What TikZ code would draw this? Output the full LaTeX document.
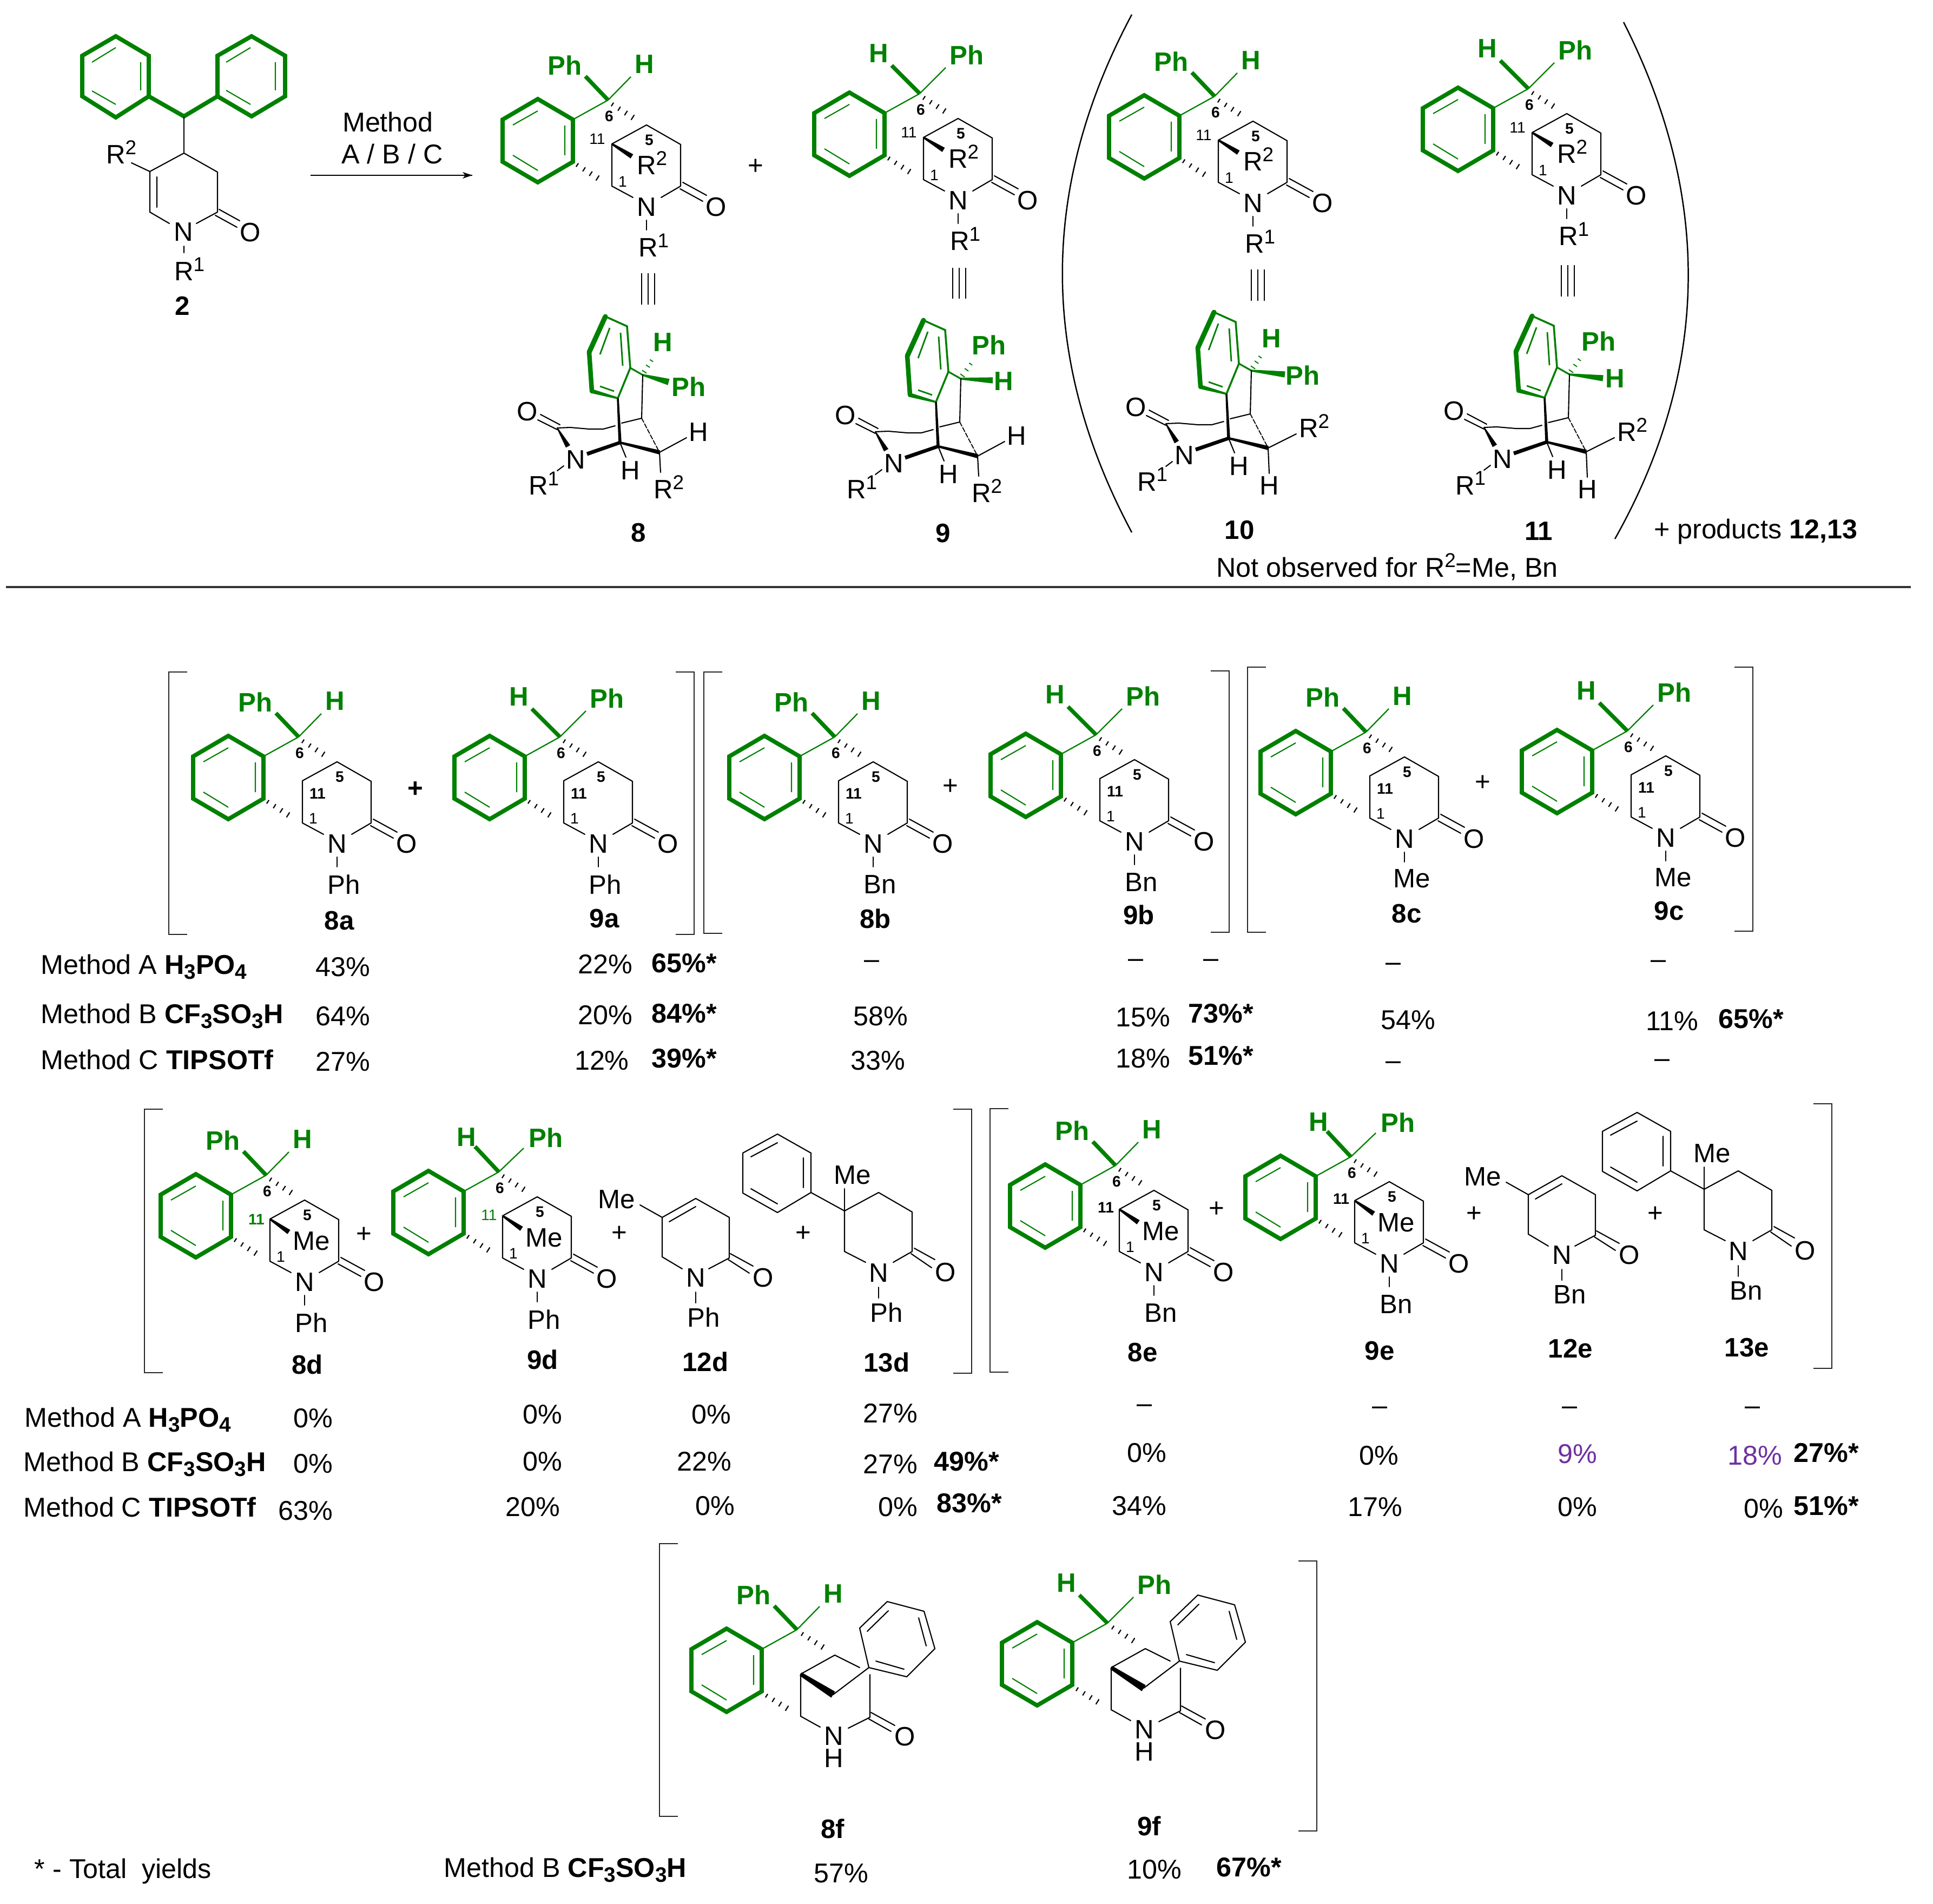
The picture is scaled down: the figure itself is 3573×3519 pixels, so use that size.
\documentclass[tikz,border=0pt]{standalone}
\usepackage{fontspec}
\setmainfont{Liberation Sans}
\usetikzlibrary{calc}
\definecolor{chemgreen}{RGB}{0,128,0}
\definecolor{yieldpurple}{RGB}{112,48,160}
\newcounter{nn}
\newcommand\mainfs{\fontsize{14}{16}\selectfont}
\newcommand\tabfs{\fontsize{14.3}{16}\selectfont}
\newcommand\smallfs{\fontsize{8}{9}\selectfont}
\newcommand\supfs{\fontsize{10.5}{11}\selectfont}
\tikzset{
  x=0.01cm,y=-0.01cm,
  txt/.style={inner sep=0pt,outer sep=0pt,font=\mainfs},
  tab/.style={txt,font=\tabfs},
  gl/.style={txt,text=chemgreen,font=\mainfs\bfseries},
  num/.style={txt,font=\smallfs},
  numb/.style={txt,font=\smallfs\bfseries},
  cpd/.style={txt,font=\fontsize{14}{16}\selectfont\bfseries},
  plusb/.style={txt,font=\mainfs\bfseries},
  bond/.style={line width=0.6pt,black,line cap=round},
  gthin/.style={line width=0.65pt,chemgreen},
  gin/.style={line width=0.6pt,chemgreen},
  gring/.style={line width=2.2pt,chemgreen,line join=miter},
  gbar/.style={line width=2.1pt,chemgreen},
  brk/.style={line width=0.7pt,black!85},
}
\newcommand\T[3][]{\stepcounter{nn}\node[txt,#1] (n\thenn) at #2 {#3};}
\newcommand\Rl[3]{\stepcounter{nn}\node[txt,anchor=base west] (n\thenn) at ($#1+(-17,17)$) {R\raisebox{5pt}{\supfs #2}};}
% tapered solid bond: colour, from, to, half width at start, half width at end
\newcommand\tb[5][black]{\fill[#1] ($#2!#4!90:#3$) -- ($#2!#4!-90:#3$) -- ($#3!#5!90:#2$) -- ($#3!#5!-90:#2$) -- cycle;}
% hashed bond
\newcommand\hb[3][black]{\foreach \t/\w in {0/1.1,0.25/1.25,0.5/1.4,0.75/1.55,1/1.7}{\draw[line width=0.62pt,#1] ($#2!\t!#3!\w pt!90:#3$) -- ($#2!\t!#3!\w pt!-90:#3$);}}
\newcommand\hbg[2]{\foreach \t/\w in {0/1.4,0.33/1.2,0.66/1.0,1/0.8}{\draw[line width=0.55pt,chemgreen] ($#1!\t!#2!\w pt!90:#2$) -- ($#1!\t!#2!\w pt!-90:#2$);}}
% fused green benzene, upper-left of C6
\newcommand\benz{%
  \coordinate (bT) at (-130,-2);\coordinate (bUR) at (-65,36);\coordinate (bLR) at (-65,114);
  \coordinate (bB) at (-130,152);\coordinate (bLL) at (-195,114);\coordinate (bUL) at (-195,36);
  \draw[gring] (bT)--(bUR)--(bLR)--(bB)--(bLL)--(bUL)--cycle;
  \draw[gin] (-176,46)--(-130,20) (-80,47)--(-80,102) (-176,102)--(-130,130);
  \draw[gthin] (bUR)--(0,0);}
\newcommand\topgroup[1]{%
  \ifnum#1=8
    \draw[gbar] (0,0)--(-42,-44);\draw[gthin] (0,0)--(42,-43);
    \T[gl]{(-80,-64)}{Ph}\T[gl]{(67,-66)}{H}
  \else
    \ifnum#1=7
      \draw[gbar] (0,0)--(-44,-47);\draw[gthin] (0,0)--(46,-44);
      \T[gl]{(-60,-64)}{H}\T[gl]{(87,-63)}{Ph}
    \else
      \draw[gbar] (0,0)--(-52,-52);\draw[gthin] (0,0)--(48,-48);
      \T[gl]{(-76,-74)}{H}\T[gl]{(87,-71)}{Ph}
    \fi
  \fi}
\newcommand\lactam{%
  \draw[bond] (c1)--(nl) (nr)--(c3);
  \draw[bond] (138,152)--(182,176) (133,164)--(175,187);
  \T{(71,198)}{N}\T{(200,198)}{O}}
% substituents on N
\newcommand\NR{\draw[bond] (71,222)--(71,240);\Rl{(73,273)}{1}{}}
\newcommand\NPh{\draw[bond] (71,222)--(71,240);\T{(84,273)}{Ph}}
\newcommand\NBn{\draw[bond] (71,222)--(71,240);\T{(84,273)}{Bn}}
\newcommand\NMe{\draw[bond] (71,222)--(71,240);\T{(85,271)}{Me}}
% numbering of C11
\newcommand\nIn{\T[numb]{(35,105)}{11}}
\newcommand\nOut{\T[num]{(-20,72)}{11}}
\newcommand\nOutB{\T[numb]{(-18,78)}{11}}
\newcommand\nOutG{\T[num,text=chemgreen]{(-18,80)}{11}}
\newcommand\nOutGB{\T[numb,text=chemgreen]{(-18,82)}{11}}
% C11 substituent
\newcommand\sR{\tb{(7,81)}{(44,104)}{0.5pt}{1.3pt}\Rl{(70,121)}{2}{}}
\newcommand\sMe{\tb{(7,81)}{(42,105)}{0.5pt}{1.3pt}\T{(84,122)}{Me}}
% main polycycle  #1 x #2 y #3 8|9|7 #4 N-substituent #5 label 11 #6 C11 substituent
\newcommand\mol[6]{%
  \begin{scope}[shift={(#1,#2)}]
    \coordinate (c6) at (0,0);\coordinate (c5) at (71,46);\coordinate (c11) at (7,81);
    \coordinate (c1) at (7,159);\coordinate (c4) at (134,82);\coordinate (c3) at (134,159);
    \coordinate (nl) at (46,180);\coordinate (nr) at (98,180);
    \benz
    \topgroup{#3}
    \hb{(8,8)}{(58,40)}
    \hb{(-57,120)}{(-7,152)}
    \draw[bond] (c11)--(c5)--(c4)--(c3) (c11)--(c1);
    \lactam
    #4
    \T[numb]{(2,30)}{6}\T[numb]{(76,74)}{5}\T[num]{(27,151)}{1}
    #5
    #6
  \end{scope}}
% 8f/9f
\newcommand\molf[3]{%
  \begin{scope}[shift={(#1,#2)}]
    \coordinate (c6) at (0,0);\coordinate (c5) at (70,47);\coordinate (c11) at (7,82);
    \coordinate (c1) at (7,160);\coordinate (cq) at (133,70);\coordinate (c3) at (135,162);
    \coordinate (nl) at (43,180);\coordinate (nr) at (95,182);\coordinate (cb) at (67,120);
    \benz
    \topgroup{#3}
    \hb{(10,8)}{(60,40)}
    \hb{(-56,122)}{(-6,153)}
    \draw[bond] (c11)--(c5)--(116,70) (c11)--(c1)--(nl) (nr)--(c3)--(135,83);
    \tb{(c11)}{(cb)}{1pt}{1.9pt}
    \draw[bond] (cb)--(cq);
    \draw[bond] (137,153)--(181,177) (133,165)--(174,188);
    \draw[bond,line join=round] (cq)--(116,-3)--(167,-52)--(235,-34)--(255,35)--(203,87)--cycle;
    \draw[bond] (130,3)--(169,-35) (225,-22)--(239,30) (146,58)--(198,73);
    \T[align=center,font=\fontsize{14}{11.8}\selectfont]{(68,217)}{N\\H}\T{(200,198)}{O}
  \end{scope}}
% side view  #1 x #2 y #3 8|9|10|11
\newcommand\side[3]{%
  \begin{scope}[shift={(#1,#2)}]
    \coordinate (c) at (0,0);\coordinate (ba) at (-69,-108);\coordinate (bb) at (-29,-90);
    \coordinate (bc) at (-23,-13);\coordinate (bd) at (-46,43);\coordinate (be) at (-94,30);
    \coordinate (bf) at (-99,-42);\coordinate (f) at (-42,125);\coordinate (k) at (-2,80);
    \coordinate (g) at (31,143);\coordinate (co) at (-158,98);
    \draw[chemgreen,line width=2.6pt,line cap=round] (ba)--(bf);
    \draw[chemgreen,line width=2.4pt,line cap=round] (bf)--(be);
    \tb[chemgreen]{(be)}{(bd)}{1.1pt}{0.5pt}
    \draw[chemgreen,line width=1pt,line cap=round] (bd)--(bc);
    \draw[chemgreen,line width=1pt,line cap=round] (bc)--(bb)--(ba);
    \draw[chemgreen,line width=0.9pt] (bc)--(c);
    \draw[gin,line width=0.8pt] (-61,-87)--(-79,-38) (-41,-78)--(-37,-17) (-79,21)--(-53,30);
    \ifnum#3=8
      \tb[chemgreen]{(c)}{(48,13)}{0.5pt}{1.7pt}\hbg{(3,-6)}{(23,-37)}
      \T[gl]{(85,22)}{Ph}\T[gl]{(37,-60)}{H}
    \fi
    \ifnum#3=9
      \tb[chemgreen]{(c)}{(59,3)}{0.5pt}{1.6pt}\hbg{(3,-6)}{(26,-38)}
      \T[gl]{(79,5)}{H}\T[gl]{(52,-62)}{Ph}
    \fi
    \ifnum#3=10
      \tb[chemgreen]{(c)}{(62,7)}{0.5pt}{1.6pt}\hbg{(3,-6)}{(23,-35)}
      \T[gl]{(95,9)}{Ph}\T[gl]{(37,-59)}{H}
    \fi
    \ifnum#3=11
      \tb[chemgreen]{(c)}{(62,7)}{0.5pt}{1.6pt}\hbg{(3,-6)}{(26,-38)}
      \T[gl]{(84,8)}{H}\T[gl]{(54,-61)}{Ph}
    \fi
    \draw[bond] (c)--(k);
    \tb{(bd)}{(f)}{0.5pt}{0.8pt}
    \draw[bond] (co)--(-134,97)--(-99,100)--(-73,100)--(-51,94) (-39,89)--(k);
    \draw[bond,line width=0.5pt,dash pattern=on 2.4pt off 0.9pt] (k)--(g);
    \tb{(f)}{(g)}{0.6pt}{1.1pt}
    \tb{(f)}{(-103,146)}{0.9pt}{1pt}
    \tb{(co)}{(-138,132)}{0.3pt}{1.3pt}
    \draw[bond] (-189,73)--(-153,92) (-194,83)--(-158,101);
    \draw[bond] (-158,177)--(-146,168);
    \draw[bond] (f)--(-31,152);
    \T{(-213,68)}{O}\T{(-124,157)}{N}\Rl{(-194,205)}{1}{}\T{(-23,177)}{H}
    \ifnum#3<10
      \draw[bond] (g)--(81,116) (g)--(33,180);
      \T{(103,106)}{H}\Rl{(37,212)}{2}{}
    \else
      \draw[bond] (g)--(83,117) (g)--(33,190);
      \Rl{(105,107)}{2}{}\T{(33,213)}{H}
    \fi
  \end{scope}}
% |||
\newcommand\eqv[3]{\draw[bond,line cap=butt] (#1-12,#2)--(#1-12,#3) (#1,#2)--(#1,#3) (#1+12,#2)--(#1+12,#3);}
% brackets
\newcommand\lb[4]{\draw[brk] (#1+34,#2)--(#1,#2)--(#1,#3)--(#1+34,#3);}
\newcommand\rb[4]{\draw[brk] (#1-34,#2)--(#1,#2)--(#1,#3)--(#1-34,#3);}
% lactams 12 and 13
\newcommand\lactC[4]{%
  \draw[bond] (#1)--(nl) (nr)--(#2);
  \T{(0,0)}{N}\draw[bond] (0,26)--(0,46);\T{(15,73)}{#3}}
\newcommand\mola[3]{%
  \begin{scope}[shift={(#1,#2)}]
    \coordinate (a) at (-62,-112);\coordinate (b) at (0,-147);\coordinate (d) at (62,-112);
    \coordinate (e) at (62,-37);\coordinate (h) at (-62,-39);\coordinate (nl) at (-25,-17);\coordinate (nr) at (24,-17);
    \draw[bond,line join=round] (h)--(a)--(b)--(d)--(e);
    \draw[bond] (-49,-104)--(0,-132) (-103,-135)--(a);
    \draw[bond] (64,-45)--(106,-22) (60,-34)--(99,-9);
    \lactC{h}{e}{#3}{}
    \T{(125,0)}{O}\T{(-146,-145)}{Me}
  \end{scope}}
\newcommand\molb[3]{%
  \begin{scope}[shift={(#1,#2)}]
    \coordinate (a) at (-63,-115);\coordinate (b) at (0,-149);\coordinate (d) at (62,-113);
    \coordinate (e) at (62,-40);\coordinate (h) at (-63,-40);\coordinate (nl) at (-24,-20);\coordinate (nr) at (27,-20);
    \draw[bond,line join=round] (h)--(a)--(b)--(d)--(e);
    \draw[bond] (-63,-156)--(a);
    \draw[bond] (66,-46)--(104,-25) (60,-36)--(98,-10);
    \draw[bond,line join=round] (a)--(-125,-149)--(-125,-222)--(-187,-257)--(-251,-222)--(-251,-148)--(-187,-112)--(-125,-149);
    \draw[bond] (-139,-213)--(-139,-158) (-187,-241)--(-236,-215) (-236,-156)--(-187,-128);
    \lactC{h}{e}{#3}{}
    \T{(124,-1)}{O}\T{(-48,-181)}{Me}
  \end{scope}}
\newcommand\sub[1]{\raisebox{-2.5pt}{\fontsize{11}{11}\selectfont\bfseries #1}}
\newcommand\mA{Method A \textbf{H\sub{3}PO\sub{4}}}
\newcommand\mB{Method B \textbf{CF\sub{3}SO\sub{3}H}}
\newcommand\mC{Method C \textbf{TIPSOTf}}
\newcommand\V[3]{\T[tab]{(#1,#2)}{#3}}
\newcommand\Vd[2]{\T[tab]{(#1,#2+3)}{–}}
\newcommand\Vb[3]{\T[tab,font=\tabfs\bfseries]{(#1,#2)}{#3}}
\newcommand\Vp[3]{\T[tab,text=yieldpurple]{(#1,#2)}{#3}}
\newcommand\M[3]{\T[tab,anchor=base west]{(#1,#2+7)}{#3}}
\begin{document}
\begin{tikzpicture}
\useasboundingbox (0,0) rectangle (3573,3519);
\fill[white] (0,0) rectangle (3573,3519);
% ---------- substrate 2
\begin{scope}
  \draw[gring] (214,67)--(275,103)--(275,178)--(214,217)--(152,178)--(152,103)--cycle;
  \draw[gring] (465,67)--(527,103)--(527,178)--(465,215)--(402,178)--(402,103)--cycle;
  \draw[gin] (170,115)--(214,88) (260,115)--(260,167) (170,168)--(214,193);
  \draw[gin] (418,115)--(463,88) (509,115)--(509,167) (418,167)--(463,193);
  \draw[gring] (275,178)--(340,215)--(402,178);
  \coordinate (s4) at (340,283);\coordinate (s5) at (277,317);\coordinate (s6) at (277,392);
  \coordinate (s3) at (402,392);\coordinate (s2) at (402,318);
  \draw[bond] (340,217)--(s4);
  \draw[bond,line join=round] (s6)--(s5)--(s4)--(s2)--(s3);
  \draw[bond] (290,327)--(290,383) (s6)--(313,413) (363,413)--(s3);
  \draw[bond] (405,387)--(443,408) (398,398)--(438,420);
  \draw[bond] (243,301)--(s5) (340,455)--(340,467);
  \T{(339,429)}{N}\T{(463,430)}{O}\Rl{(213,286)}{2}{}\Rl{(339,502)}{1}{}
  \T[cpd]{(337,565)}{2}
\end{scope}
\coordinate (arrA) at (574,324);\coordinate (arrB) at (873,324);
\draw[line width=0.6pt,black] (arrA)--(arrB);
\fill (arrB)--(855,318)--(860,324)--(855,330)--cycle;
\T[tab]{(717,226)}{Method}\T[tab]{(725,285)}{A / B / C}
% ---------- top row
\mol{1124}{185}{8}{\NR}{\nOut}{\sR}
\T{(1397,308)}{+}
\mol{1700}{173}{9}{\NR}{\nOut}{\sR}
\mol{2245}{178}{8}{\NR}{\nOut}{\sR}
\mol{2825}{164}{9}{\NR}{\nOut}{\sR}
\eqv{1198}{505}{563}\eqv{1773}{495}{552}\eqv{2325}{498}{556}\eqv{2898}{490}{548}
\side{1188}{693}{8}\side{1776}{700}{9}\side{2313}{685}{10}\side{2901}{692}{11}
\T[cpd]{(1180,985)}{8}\T[cpd]{(1743,986)}{9}\T[cpd]{(2291,980)}{10}\T[cpd]{(2844,982)}{11}
\T[tab]{(2564,1048)}{Not observed for R\raisebox{5pt}{\supfs 2}=Me, Bn}
\T[tab]{(3245,982)}{+ products \textbf{12,13}}
\draw[line width=0.7pt] (2092,27) .. controls (1921,347) and (1921,664) .. (2092,984);
\draw[line width=0.7pt] (3001,41) .. controls (3163,360) and (3163,680) .. (2985,996);
\draw[line width=0.9pt,black!80] (11,1085)--(3532,1085);
% ---------- row a-c
\lb{312}{1242}{1727}{}\rb{1283}{1242}{1727}{}
\lb{1301}{1242}{1725}{}\rb{2272}{1240}{1723}{}
\lb{2306}{1233}{1723}{}\rb{3240}{1233}{1721}{}
\mol{552}{1362}{8}{\NPh}{\nIn}{}\mol{1035}{1362}{9}{\NPh}{\nIn}{}
\mol{1543}{1362}{8}{\NBn}{\nIn}{}\mol{2026}{1358}{9}{\NBn}{\nIn}{}
\mol{2525}{1353}{8}{\NMe}{\nIn}{}\mol{3008}{1351}{9}{\NMe}{\nIn}{}
\T[plusb]{(768,1459)}{+}
\T{(1757,1454)}{+}
\T{(2741,1447)}{+}
\T[cpd]{(627,1702)}{8a}\T[cpd]{(1117,1698)}{9a}\T[cpd]{(1618,1698)}{8b}\T[cpd]{(2105,1691)}{9b}\T[cpd]{(2600,1689)}{8c}\T[cpd]{(3085,1684)}{9c}
% ---------- row d-e
\lb{267}{2050}{2537}{}\rb{1796}{2050}{2538}{}
\lb{1830}{2049}{2536}{}\rb{3386}{2040}{2529}{}
\mol{492}{2172}{8}{\NPh}{\nOutGB}{\sMe}\mol{922}{2166}{7}{\NPh}{\nOutG}{\sMe}
\mola{1286}{2362}{Ph}\molb{1624}{2353}{Ph}
\mol{2062}{2154}{8}{\NBn}{\nOutB}{\sMe}\mol{2497}{2138}{7}{\NBn}{\nOutB}{\sMe}
\mola{2887}{2320}{Bn}\molb{3213}{2313}{Bn}
\T{(673,2282)}{+}
\T{(1145,2280)}{+}
\T{(1485,2280)}{+}
\T{(2249,2235)}{+}
\T{(2725,2244)}{+}
\T{(3060,2244)}{+}
\T[cpd]{(568,2522)}{8d}\T[cpd]{(1003,2513)}{9d}\T[cpd]{(1304,2517)}{12d}\T[cpd]{(1639,2518)}{13d}
\T[cpd]{(2112,2500)}{8e}\T[cpd]{(2550,2497)}{9e}\T[cpd]{(2903,2493)}{12e}\T[cpd]{(3229,2491)}{13e}
% ---------- row f
\lb{1219}{2853}{3357}{}\rb{2434}{2885}{3384}{}
\molf{1473}{3012}{8}\molf{2047}{3000}{9}
\T[cpd]{(1539,3380)}{8f}\T[cpd]{(2124,3375)}{9f}
% ---------- table (coordinates of the 1568 px view)
\begin{scope}[x=0.022787cm,y=-0.022787cm]
\M{33}{783}{\mA}\M{33}{823}{\mB}\M{33}{860}{\mC}
\V{278}{784}{43\%}\V{491}{782}{22\%}\Vb{555}{781}{65\%*}\Vd{707}{779}\Vd{921}{778}\Vd{982}{778}\Vd{1130}{781}\Vd{1345}{779}
\V{278}{824}{64\%}\V{491}{823}{20\%}\Vb{555}{822}{84\%*}\V{714}{824}{58\%}\V{927}{825}{15\%}\Vb{990}{822}{73\%*}\V{1142}{827}{54\%}\V{1356}{828}{11\%}\Vb{1420}{826}{65\%*}
\V{278}{861}{27\%}\V{488}{860}{12\%}\Vb{555}{858}{39\%*}\V{712}{860}{33\%}\V{927}{858}{18\%}\Vb{990}{856}{51\%*}\Vd{1130}{861}\Vd{1348}{859}
\M{20}{1150}{\mA}\M{19}{1186}{\mB}\M{19}{1223}{\mC}
\V{254}{1150}{0\%}\V{440}{1147}{0\%}\V{577}{1147}{0\%}\V{722}{1146}{27\%}\Vd{928}{1139}\Vd{1119}{1141}\Vd{1273}{1141}\Vd{1421}{1141}
\V{254}{1187}{0\%}\V{440}{1185}{0\%}\V{571}{1185}{22\%}\V{722}{1187}{27\%}\Vb{784}{1185}{49\%*}\V{930}{1178}{0\%}\V{1118}{1180}{0\%}\Vp{1279}{1179}{9\%}\Vp{1423}{1180}{18\%}\Vb{1481}{1178}{27\%*}
\V{248}{1225}{63\%}\V{432}{1222}{20\%}\V{580}{1221}{0\%}\V{728}{1222}{0\%}\Vb{786}{1219}{83\%*}\V{924}{1221}{34\%}\V{1115}{1222}{17\%}\V{1279}{1222}{0\%}\V{1430}{1223}{0\%}\Vb{1481}{1221}{51\%*}
\M{28}{1516}{* - Total\ \ yields}\M{360}{1515}{\mB}
\V{682}{1519}{57\%}\V{936}{1516}{10\%}\Vb{1013}{1514}{67\%*}
\end{scope}
\end{tikzpicture}
\end{document}
